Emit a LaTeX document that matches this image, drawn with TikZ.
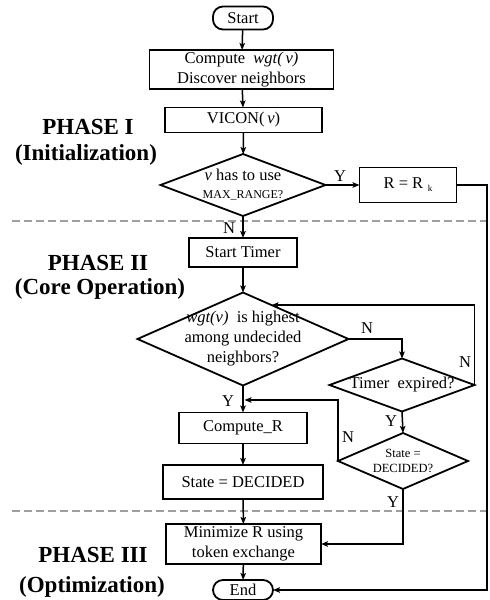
\documentclass[tikz,border=0pt]{standalone}
\usepackage{fontspec}
\setmainfont{Liberation Serif}
\usetikzlibrary{shapes.geometric,arrows.meta}
\begin{document}
\begin{tikzpicture}[x=1pt,y=-1pt,
  every node/.style={inner sep=0pt, outer sep=0pt},
  boxn/.style={draw, line width=1.8pt, rectangle, align=center, font=\fontsize{16.5}{19.5}\selectfont},
  pill/.style={draw, line width=1.8pt, rounded corners=10pt, font=\fontsize{16.5}{19.5}\selectfont},
  dia/.style={draw, line width=1.8pt, diamond},
  dtext/.style={align=center, font=\fontsize{16.5}{20}\selectfont},
  stext/.style={align=center, font=\fontsize{12.5}{15}\selectfont},
  yn/.style={font=\fontsize{16.5}{19}\selectfont},
  phase/.style={font=\fontsize{23}{26}\selectfont\bfseries},
  arr/.style={line width=1.5pt, -{Stealth[length=7pt,width=5.5pt,inset=1.5pt]}},
  sep/.style={draw=gray!75, line width=2pt, dash pattern=on 8pt off 4pt}
]
\useasboundingbox (0,0) rectangle (490,600);

% phase separators
\draw[sep] (12,221) -- (490,221);
\draw[sep] (12,511) -- (490,511);

% phase labels
\node[phase] (p1a) at (88,127) {PHASE I};
\node[phase] (p1b) at (86,155) {(Initialization)};
\node[phase] (p2a) at (98,263) {PHASE II};
\node[phase] (p2b) at (100,289) {(Core Operation)};
\node[phase] (p3a) at (93,555) {PHASE III};
\node[phase] (p3b) at (92,587) {(Optimization)};

% nodes
\node[pill, minimum width=60pt, minimum height=23pt] (start) at (243,18) {Start};
\node[boxn, minimum width=184pt, minimum height=39pt] (comp) at (241.5,69.5)
  {Compute \ \textit{wgt(\,v)}\\Discover neighbors};
\node[boxn, minimum width=157pt, minimum height=25pt] (vicon) at (243.5,120)
  {VICON(\,\textit{v})};
\node[dia, minimum width=165pt, minimum height=62pt,
  label={[stext, font=\fontsize{16.5}{18}\selectfont]center:{\textit{v} has to use\\{\fontsize{12}{14}\selectfont MAX\_RANGE?}}}] (d1) at (243,185) {};
\node[boxn, minimum width=97pt, minimum height=35pt] (rk) at (408,185)
  {R = R\;\raisebox{-3pt}{\fontsize{9}{9}\selectfont k}};
\node[boxn, minimum width=108pt, minimum height=29pt] (timer) at (243,252.5) {Start Timer};
\node[dia, minimum width=211pt, minimum height=93pt,
  label={[dtext]center:{\textit{wgt(v)}\ \ is highest\\among undecided\\neighbors?}}] (d2) at (243,339) {};
\node[dia, minimum width=145pt, minimum height=53pt,
  label={[dtext]center:{Timer\ \ expired?}}] (d3) at (402,385) {};
\node[dia, minimum width=130pt, minimum height=56pt,
  label={[stext]center:{State =\\DECIDED?}}] (d4) at (403,461) {};
\node[boxn, minimum width=128pt, minimum height=31pt] (compr) at (243,428) {Compute\_R};
\node[boxn, minimum width=160pt, minimum height=34pt] (decided) at (243,482) {State = DECIDED};
\node[boxn, minimum width=155pt, minimum height=40pt] (minim) at (243.5,544)
  {Minimize R using\\token exchange};
\node[pill, minimum width=60pt, minimum height=20pt] (endn) at (243,590) {End};

% helper coordinates
\coordinate (rt) at (487,0);
\path (d2.north) -- (d2.east) coordinate[pos=0.27] (lp);
\coordinate (jn) at (244.5,400);

% connectors
\draw[arr] (start) -- (comp);
\draw[arr] (comp) -- (vicon);
\draw[arr] (vicon) -- (d1);
\draw[arr] (d1.east) -- (rk.west);
\draw[arr] (d1.south) -- (timer.north);
\draw[arr] (rk.east) -- (rk.east -| rt) |- (endn.east);
\draw[arr] (timer) -- (d2.north);
\draw[arr] (d2.east) -| (d3.north);
\draw[arr] (d3.east) -- (d3.east |- lp) -- (lp);
\draw[arr] (d3.south) -- (d4.north);
\draw[arr] (d4.west) |- (jn);
\draw[arr] (d2.south) -- (compr.north);
\draw[arr] (compr) -- (decided);
\draw[arr] (decided) -- (minim);
\draw[arr] (d4.south) |- (minim.east);
\draw[arr] (minim) -- (endn);

% Y / N labels
\node[yn] (y1) at (340,176) {Y};
\node[yn] (n1) at (229,228) {N};
\node[yn] (n2) at (367,328) {N};
\node[yn] (n3) at (465,362) {N};
\node[yn] (y2) at (391,421) {Y};
\node[yn] (n4) at (348,437) {N};
\node[yn] (y3) at (228,401) {Y};
\node[yn] (y4) at (393,502) {Y};
\end{tikzpicture}
\end{document}
